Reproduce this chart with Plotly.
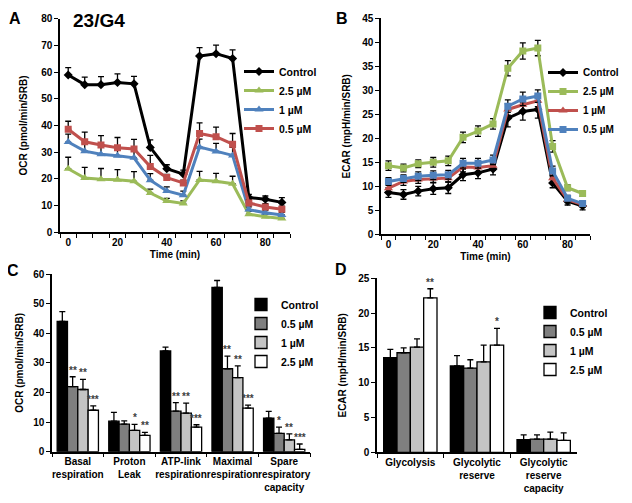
import plotly.graph_objects as go

# ---------------- data ----------------
times = [0, 6.7, 13.3, 20, 26.7, 33.3, 40, 46.7, 53.3, 60, 66.7, 73.3, 80, 86.7]

# Panel A: OCR time course
ocr_control = [58.9, 55.3, 55.3, 56.1, 55.6, 31.8, 23.8, 21.8, 66.0, 66.9, 65.1, 13.0, 12.4, 11.2]
ocr_control_err = [2.8, 2.8, 3.0, 3.2, 2.8, 2.8, 1.5, 1.5, 3.2, 3.2, 3.2, 1.2, 1.2, 1.8]
ocr_25 = [23.8, 20.3, 19.9, 19.7, 19.1, 14.7, 11.7, 10.8, 19.6, 19.1, 18.2, 6.8, 5.8, 5.2]
ocr_25_err = [4.3, 4.0, 4.0, 3.8, 3.6, 1.5, 1.0, 1.0, 3.2, 3.0, 2.8, 1.0, 1.0, 1.0]
ocr_1 = [33.8, 30.4, 29.2, 28.7, 27.9, 19.5, 15.5, 13.9, 31.9, 30.3, 28.8, 8.5, 7.3, 6.5]
ocr_1_err = [3.0, 3.0, 3.0, 3.0, 3.0, 2.5, 1.5, 1.5, 3.0, 3.0, 3.0, 1.0, 1.0, 1.0]
ocr_05 = [38.6, 33.9, 32.7, 31.7, 31.2, 24.6, 20.5, 18.5, 37.0, 35.8, 33.0, 11.0, 9.5, 8.6]
ocr_05_err = [3.0, 3.6, 3.5, 3.8, 3.6, 4.2, 1.2, 1.0, 4.0, 3.6, 4.0, 1.2, 1.2, 1.2]

# Panel B: ECAR time course
ecar_control = [8.7, 8.3, 9.0, 9.5, 9.7, 12.4, 12.8, 13.6, 24.2, 25.6, 26.0, 10.7, 6.9, 5.9]
ecar_control_err = [1.0, 1.0, 1.0, 1.2, 1.2, 1.2, 1.2, 1.2, 1.8, 1.8, 1.8, 1.0, 0.8, 0.8]
ecar_25 = [14.3, 13.8, 14.7, 15.0, 15.3, 20.2, 21.5, 23.0, 34.6, 38.2, 38.8, 18.3, 9.7, 8.5]
ecar_25_err = [1.0, 0.8, 0.8, 1.0, 1.0, 1.1, 1.1, 1.1, 1.6, 1.7, 1.6, 1.2, 0.6, 0.6]
ecar_1 = [9.6, 11.0, 11.4, 11.6, 11.7, 14.0, 13.9, 14.3, 26.0, 27.0, 27.8, 11.7, 7.2, 6.2]
ecar_1_err = [0.8, 0.8, 0.8, 0.8, 0.8, 1.0, 1.0, 1.0, 1.2, 1.2, 1.2, 1.0, 0.6, 0.6]
ecar_05 = [11.0, 11.6, 12.1, 12.3, 12.4, 14.8, 14.8, 15.5, 26.7, 28.2, 28.8, 13.2, 7.5, 6.4]
ecar_05_err = [0.8, 0.8, 0.9, 0.9, 0.9, 1.0, 1.0, 1.0, 1.3, 1.4, 1.3, 1.0, 0.6, 0.6]

xtick_vals = [0, 20, 40, 60, 80]

# Panel C: mito parameters
cat_c = ["Basal<br>respiration", "Proton<br>Leak", "ATP-link<br>respiration",
         "Maximal<br>respiration", "Spare<br>respiratory<br>capacity"]
c_control = [44.0, 10.3, 34.0, 55.5, 11.3]
c_control_err = [3.3, 3.0, 1.3, 2.3, 2.3]
c_05 = [22.0, 9.3, 13.7, 28.0, 6.2]
c_05_err = [3.3, 1.1, 2.9, 4.3, 2.1]
c_1 = [21.0, 7.2, 13.0, 25.0, 4.0]
c_1_err = [3.4, 2.0, 3.4, 4.0, 2.0]
c_25 = [14.0, 5.5, 8.3, 14.7, 0.8]
c_25_err = [1.5, 1.0, 0.8, 1.0, 1.8]
c_05_sig = ["**", "", "**", "**", "*"]
c_1_sig = ["**", "*", "**", "**", "**"]
c_25_sig = ["***", "**", "***", "***", "***"]

# Panel D: glycolytic parameters
cat_d = ["Glycolysis", "Glycolytic<br>reserve", "Glycolytic<br>reserve<br>capacity"]
d_control = [13.6, 12.4, 1.8]
d_control_err = [1.2, 1.5, 0.7]
d_05 = [14.3, 12.1, 1.9]
d_05_err = [0.7, 1.2, 0.6]
d_1 = [15.1, 13.0, 1.9]
d_1_err = [1.2, 2.4, 1.0]
d_25 = [22.2, 15.4, 1.7]
d_25_err = [1.3, 2.4, 1.1]
d_25_sig = ["**", "*", ""]

# ---------------- styles ----------------
# the page body adds an 8 px margin, so the figure is drawn 8 px smaller
OFF = 8
W, H = 632 - OFF, 503 - OFF
BLACK = "#000000"
GREEN = "#9bbb59"
BLUE = "#4f81bd"
RED = "#c0504d"
FONT = "Liberation Sans"


def xdom(a, b):
    return [(a - OFF) / W, (b - OFF) / W]


def ydom(top, bottom):
    return [1 - (bottom - OFF) / H, 1 - (top - OFF) / H]


def px(x):
    return (x - OFF) / W


def py(y):
    return 1 - (y - OFF) / H


fig = go.Figure()


def line_trace(y, err, name, color, symbol, size, xa, ya, legend, symmetric):
    err_kw = dict(type="data", array=err, visible=True, color=BLACK,
                  thickness=1.3, width=3)
    if not symmetric:
        err_kw["symmetric"] = False
        err_kw["arrayminus"] = [0] * len(err)
    return go.Scatter(
        x=times, y=y, name=name, mode="lines+markers",
        line=dict(color=color, width=3),
        marker=dict(color=color, symbol=symbol, size=size),
        error_y=err_kw, xaxis=xa, yaxis=ya, legend=legend)


# Panel A
fig.add_trace(line_trace(ocr_control, ocr_control_err, "Control", BLACK, "diamond", 7, "x", "y", "legend", False))
fig.add_trace(line_trace(ocr_25, ocr_25_err, "2.5 µM", GREEN, "triangle-up", 8, "x", "y", "legend", False))
fig.add_trace(line_trace(ocr_1, ocr_1_err, "1 µM", BLUE, "triangle-up", 8, "x", "y", "legend", False))
fig.add_trace(line_trace(ocr_05, ocr_05_err, "0.5 µM", RED, "square", 7, "x", "y", "legend", False))

# Panel B
fig.add_trace(line_trace(ecar_control, ecar_control_err, "Control", BLACK, "diamond", 7, "x2", "y2", "legend2", True))
fig.add_trace(line_trace(ecar_25, ecar_25_err, "2.5 µM", GREEN, "square", 7, "x2", "y2", "legend2", True))
fig.add_trace(line_trace(ecar_1, ecar_1_err, "1 µM", RED, "triangle-up", 8, "x2", "y2", "legend2", True))
fig.add_trace(line_trace(ecar_05, ecar_05_err, "0.5 µM", BLUE, "square", 7, "x2", "y2", "legend2", True))

bar_fill = {"Control": "#000000", "0.5 µM": "#7f7f7f", "1 µM": "#c4c4c4", "2.5 µM": "#ffffff"}


def bar_trace(cats, y, err, name, xa, ya, legend):
    return go.Bar(
        x=cats, y=y, name=name,
        marker=dict(color=bar_fill[name], line=dict(color=BLACK, width=1.3)),
        error_y=dict(type="data", array=err, symmetric=False, arrayminus=[0] * len(err),
                     color=BLACK, thickness=1.3, width=3),
        xaxis=xa, yaxis=ya, legend=legend)


for name, y, e in [("Control", c_control, c_control_err), ("0.5 µM", c_05, c_05_err),
                   ("1 µM", c_1, c_1_err), ("2.5 µM", c_25, c_25_err)]:
    fig.add_trace(bar_trace(cat_c, y, e, name, "x3", "y3", "legend3"))

for name, y, e in [("Control", d_control, d_control_err), ("0.5 µM", d_05, d_05_err),
                   ("1 µM", d_1, d_1_err), ("2.5 µM", d_25, d_25_err)]:
    fig.add_trace(bar_trace(cat_d, y, e, name, "x4", "y4", "legend4"))

BARGAP = 0.2

# significance stars
annotations = []


def add_stars(cats, vals, errs, sigs, idx, group_px, xa, ya):
    bw = group_px * (1 - BARGAP) / 4
    shift = (idx - 1.5) * bw
    for c, v, e, s in zip(cats, vals, errs, sigs):
        if s:
            annotations.append(dict(x=c, y=v + e, xref=xa, yref=ya, text=s, showarrow=False,
                                    xshift=shift, yshift=-1, yanchor="bottom",
                                    font=dict(family=FONT, size=10, color="#404040", weight="bold")))


add_stars(cat_c, c_05, c_05_err, c_05_sig, 1, 51.6, "x3", "y3")
add_stars(cat_c, c_1, c_1_err, c_1_sig, 2, 51.6, "x3", "y3")
add_stars(cat_c, c_25, c_25_err, c_25_sig, 3, 51.6, "x3", "y3")
add_stars(cat_d, d_25, d_25_err, d_25_sig, 3, 66.7, "x4", "y4")

# panel letters and title
for txt, lx, ly in [("A", 15, 18), ("B", 342, 18), ("C", 13, 270), ("D", 341, 269)]:
    annotations.append(dict(text=txt, x=px(lx), y=py(ly), xref="paper", yref="paper",
                            showarrow=False, xanchor="center", yanchor="middle",
                            font=dict(family=FONT, size=16, color=BLACK, weight="bold")))
annotations.append(dict(text="23/G4", x=px(99), y=py(20), xref="paper", yref="paper",
                        showarrow=False, xanchor="center", yanchor="middle",
                        font=dict(family=FONT, size=19, color=BLACK, weight="bold")))

tickfont = dict(family=FONT, size=10, color=BLACK, weight="bold")
titlefont = dict(family=FONT, size=10, color=BLACK, weight="bold")
axis_common = dict(showline=True, linecolor=BLACK, linewidth=1.5, showgrid=False, zeroline=False,
                   ticks="outside", ticklen=4, tickwidth=1.3, tickcolor=BLACK, tickfont=tickfont,
                   automargin=False)

time_axis = dict(axis_common, range=[-3.33, 90], tickvals=xtick_vals, ticks="",
                 minor=dict(ticks="outside", tick0=-3.33, dtick=6.667, ticklen=4,
                            tickwidth=1.3, tickcolor=BLACK),
                 title=dict(text="Time (min)", font=titlefont, standoff=4))

cat_axis = dict(axis_common, ticks="outside", tickson="boundaries", tickangle=0,
                tickfont=dict(family=FONT, size=10, color=BLACK, weight="bold"))

legend_common = dict(bgcolor="rgba(0,0,0,0)", font=dict(family=FONT, size=10.5, color=BLACK, weight="bold"),
                     xanchor="left", yanchor="top", itemwidth=30, tracegroupgap=0)

fig.update_layout(
    width=W, height=H, margin=dict(l=0, r=0, t=0, b=0, autoexpand=False),
    paper_bgcolor="white", plot_bgcolor="white",
    barmode="group", bargap=BARGAP, bargroupgap=0,
    showlegend=True,
    xaxis=dict(time_axis, domain=xdom(60, 290), anchor="y"),
    yaxis=dict(axis_common, domain=ydom(18.7, 232.3), range=[0, 80], dtick=10, anchor="x",
               title=dict(text="OCR (pmol/min/SRB)", font=titlefont, standoff=12)),
    xaxis2=dict(time_axis, domain=xdom(381, 590), anchor="y2"),
    yaxis2=dict(axis_common, domain=ydom(18.3, 234.3), range=[0, 45], dtick=5, anchor="x2",
                title=dict(text="ECAR (mpH/min/SRB)", font=titlefont, standoff=10)),
    xaxis3=dict(cat_axis, domain=xdom(52, 310), anchor="y3"),
    yaxis3=dict(axis_common, domain=ydom(274, 451.7), range=[0, 60], dtick=10, anchor="x3",
                title=dict(text="OCR (pmol/min/SRB)", font=titlefont, standoff=8)),
    xaxis4=dict(cat_axis, domain=xdom(377, 577), anchor="y4"),
    yaxis4=dict(axis_common, domain=ydom(278.3, 452.3), range=[0, 25], dtick=5, anchor="x4",
                title=dict(text="ECAR (mpH/min/SRB)", font=titlefont, standoff=10)),
    legend=dict(legend_common, x=px(239), y=py(57)),
    legend2=dict(legend_common, x=px(624), y=py(58), xanchor="right",
                 font=dict(family=FONT, size=10, color=BLACK, weight="bold")),
    legend3=dict(legend_common, x=px(241), y=py(290)),
    legend4=dict(legend_common, x=px(530), y=py(298)),
    annotations=annotations,
)

fig.write_html("out.html")
